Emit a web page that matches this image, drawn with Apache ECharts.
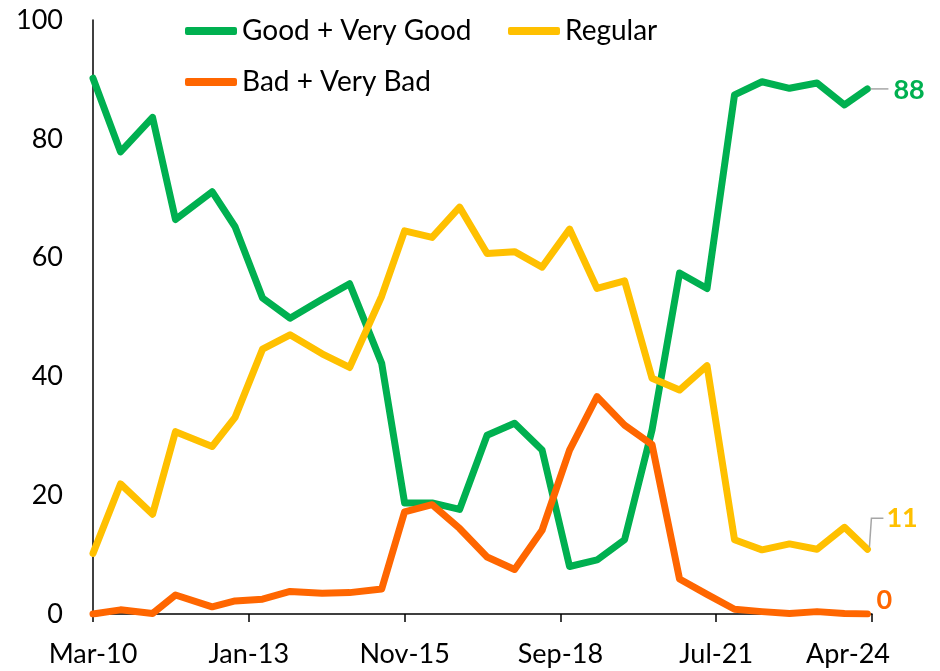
<!DOCTYPE html>
<html>
<head>
<meta charset="utf-8">
<script src="https://cdn.jsdelivr.net/npm/echarts@6/dist/echarts.min.js"></script>
<style>
  html, body { margin: 0; padding: 0; background: #fff; }
  #chart { width: 940px; height: 671px; }
</style>
</head>
<body>
<div id="chart"></div>
<script>
// survey dates (year-month), one per wave
const surveyDates = ['2010-03', '2010-09', '2011-04', '2011-09', '2012-05', '2012-10', '2013-04', '2013-10',
  '2014-05', '2014-11', '2015-06', '2015-11', '2016-05', '2016-11', '2017-05', '2017-11', '2018-05', '2018-11',
  '2019-05', '2019-11', '2020-05', '2020-11', '2021-05', '2021-11', '2022-05', '2022-11', '2023-05', '2023-11', '2024-04'];

const goodVeryGood = [90.2, 77.8, 83.6, 66.4, 71.1, 65.2, 53.2, 49.8, 53.0, 55.6, 42.2, 18.7, 18.7, 17.6, 30.1,
  32.1, 27.6, 8.0, 9.1, 12.5, 31.0, 57.4, 54.8, 87.4, 89.6, 88.5, 89.4, 85.7, 88.4];
const regular = [10.2, 21.9, 16.8, 30.7, 28.2, 33.1, 44.6, 47.0, 43.8, 41.5, 53.5, 64.5, 63.4, 68.5, 60.7,
  61.0, 58.4, 64.8, 54.8, 56.1, 39.7, 37.7, 41.8, 12.5, 10.8, 11.8, 10.9, 14.6, 10.9];
const badVeryBad = [0.0, 0.7, 0.1, 3.2, 1.2, 2.2, 2.5, 3.8, 3.5, 3.6, 4.2, 17.2, 18.4, 14.4, 9.6,
  7.5, 14.1, 27.6, 36.6, 31.8, 28.5, 5.9, 3.3, 0.8, 0.4, 0.1, 0.4, 0.1, 0.0];

const xTickLabels = ['Mar-10', 'Jan-13', 'Nov-15', 'Sep-18', 'Jul-21', 'Apr-24'];
const xTickStep = 34; // months between tick labels

const FONT = 'Lato';
const GREEN = '#00B050', YELLOW = '#FFC000', ORANGE = '#FF6600';

// months elapsed since the first wave
function monthOffset(d) {
  const [y, m] = d.split('-').map(Number);
  const [y0, m0] = surveyDates[0].split('-').map(Number);
  return (y - y0) * 12 + (m - m0);
}
const xs = surveyDates.map(monthOffset);
const toPairs = arr => arr.map((v, i) => [xs[i], v]);

function lineSeries(name, values, color, labelOffset) {
  return {
    name: name,
    type: 'line',
    data: toPairs(values),
    symbol: 'none',
    color: color,
    lineStyle: { width: 7, color: color, join: 'round', cap: 'round' },
    endLabel: {
      show: true,
      distance: 0,
      offset: labelOffset,
      formatter: p => Math.round(p.value[1]),
      color: color,
      fontFamily: FONT,
      fontWeight: 'bold',
      fontSize: 27
    }
  };
}

const chart = echarts.init(document.getElementById('chart'));
const legendBase = {
  itemWidth: 52,
  itemHeight: 8,
  icon: 'roundRect',
  textStyle: { fontFamily: FONT, fontSize: 28, color: '#000' }
};

chart.setOption({
  animation: false,
  backgroundColor: '#fff',
  grid: { left: 93, right: 68, top: 20, bottom: 57, containLabel: false },
  legend: [
    Object.assign({ data: ['Good + Very Good'], left: 180, top: 12 }, legendBase),
    Object.assign({ data: ['Regular'], left: 503, top: 12 }, legendBase),
    Object.assign({ data: ['Bad + Very Bad'], left: 180, top: 63 }, legendBase)
  ],
  xAxis: {
    type: 'value',
    min: 0,
    max: xTickStep * (xTickLabels.length - 1),
    interval: xTickStep,
    splitLine: { show: false },
    axisLine: { lineStyle: { color: '#000', width: 1.5 } },
    axisTick: { show: true, length: 8, lineStyle: { color: '#000', width: 1.5 } },
    axisLabel: {
      formatter: v => {
        const i = Math.round(v / xTickStep);
        // the last label sits a little left of its tick, as in the original
        return i === xTickLabels.length - 1 ? '{last|' + xTickLabels[i] + '}' : xTickLabels[i];
      },
      rich: { last: { fontFamily: FONT, fontSize: 27, color: '#000', padding: [0, 48, 0, 0] } },
      fontFamily: FONT, fontSize: 27, color: '#000', margin: 27,
      showMinLabel: true, showMaxLabel: true
    }
  },
  yAxis: {
    type: 'value',
    min: 0,
    max: 100,
    interval: 20,
    splitLine: { show: false },
    axisLine: { show: true, lineStyle: { color: '#000', width: 1.5 } },
    axisTick: { show: false },
    axisLabel: { fontFamily: FONT, fontSize: 27, color: '#000', margin: 30 }
  },
  series: [
    lineSeries('Good + Very Good', goodVeryGood, GREEN, [26, 1]),
    lineSeries('Regular', regular, YELLOW, [19, -31]),
    lineSeries('Bad + Very Bad', badVeryBad, ORANGE, [9, -14])
  ]
});

// grey leader lines from the last points to their value labels
const last = xs.length - 1;
const gEnd = chart.convertToPixel({ seriesIndex: 0 }, [xs[last], goodVeryGood[last]]);
const yEnd = chart.convertToPixel({ seriesIndex: 1 }, [xs[last], regular[last]]);
const leaderStyle = { stroke: '#a6a6a6', lineWidth: 1.5, fill: null };
chart.setOption({
  graphic: [
    { type: 'polyline', shape: { points: [[gEnd[0] + 3, gEnd[1]], [gEnd[0] + 21, gEnd[1]]] }, style: leaderStyle, z: 10 },
    { type: 'polyline', shape: { points: [[yEnd[0] + 2, yEnd[1] - 2], [yEnd[0] + 4, yEnd[1] - 31], [yEnd[0] + 16, yEnd[1] - 31]] }, style: leaderStyle, z: 10 }
  ]
});
</script>
</body>
</html>
